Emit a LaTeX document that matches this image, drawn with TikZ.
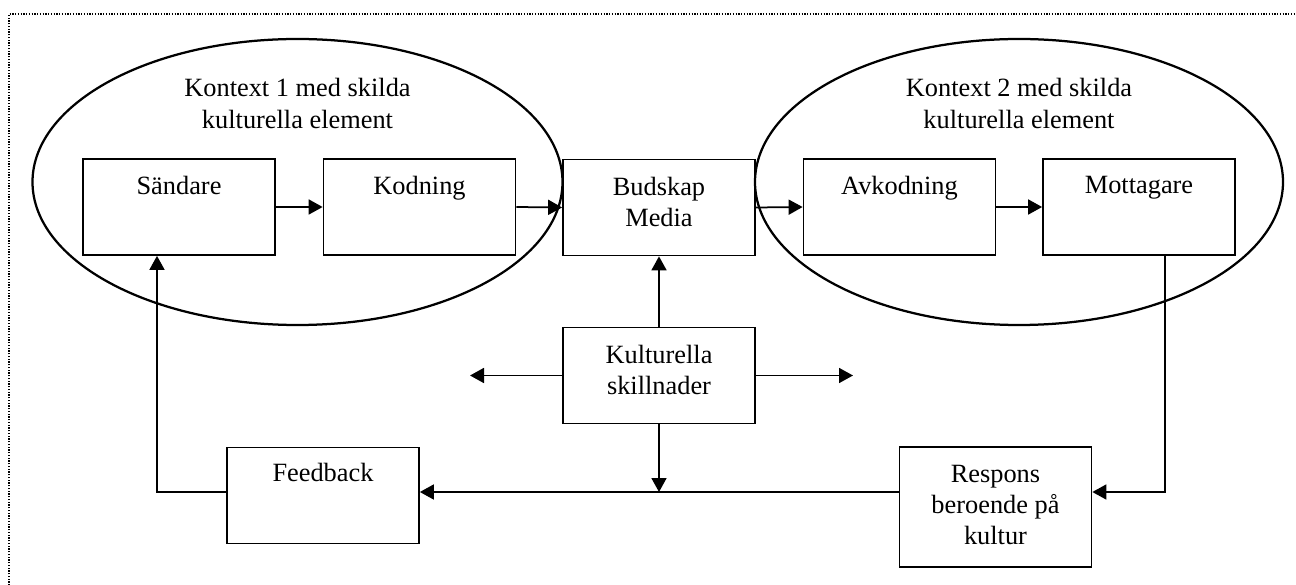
\documentclass[tikz,border=0pt]{standalone}
\usepackage{fontspec}
\setmainfont{Liberation Serif}
\usetikzlibrary{shapes.geometric, arrows.meta, positioning}

\begin{document}
\begin{tikzpicture}[
    box/.style={rectangle, draw=black, line width=0.035cm,
                minimum width=3.84cm, minimum height=1.92cm, inner sep=0pt},
    ctx/.style={ellipse, draw=black, line width=0.045cm, inner sep=0pt,
                minimum height=5.72cm},
    boxtext/.style={align=center, inner sep=0pt,
                    font=\fontsize{15}{17.6}\selectfont},
    ctxtext/.style={boxtext, font=\fontsize{15}{18.2}\selectfont},
    flow/.style={-{Triangle[length=0.28cm,width=0.30cm]}, line width=0.035cm},
    frame/.style={draw=black, line width=0.025cm,
                  dash pattern=on 0.025cm off 0.03cm},
]

\useasboundingbox (0,0) rectangle (25.92,-11.70);

% dotted page frame (runs off the right and bottom edge)
\draw[frame] (0.18,-12.2) -- (0.18,-0.28) -- (26.4,-0.28);

%---------------------------------------------------------------
% the two cultural contexts
%---------------------------------------------------------------
\node[ctx, minimum width=10.60cm] (ctx1) at (5.95,-3.64) {};
\node[ctx, minimum width=10.56cm] (ctx2) at (20.38,-3.64) {};
\node[ctxtext, below=0.80cm of ctx1.north] (ctx1t)
     {Kontext 1 med skilda\\kulturella element};
\node[ctxtext, below=0.80cm of ctx2.north] (ctx2t)
     {Kontext 2 med skilda\\kulturella element};

%---------------------------------------------------------------
% top row: the communication chain
%---------------------------------------------------------------
\node[box] (sand) at (3.58,-4.14) {};
\node[box] (kod)  at (8.39,-4.14) {};
\node[box] (bud)  at (13.18,-4.15) {};
\node[box] (avk)  at (17.99,-4.14) {};
\node[box] (mott) at (22.78,-4.14) {};

\node[boxtext, below=0.36cm of sand.north] (sandt) {Sändare};
\node[boxtext, below=0.36cm of kod.north]  (kodt)  {Kodning};
\node[boxtext, below=0.36cm of bud.north]  (budt)  {Budskap\\Media};
\node[boxtext, below=0.36cm of avk.north]  (avkt)  {Avkodning};
\node[boxtext, below=0.36cm of mott.north] (mottt) {Mottagare};

%---------------------------------------------------------------
% middle and bottom: differences, feedback, response
%---------------------------------------------------------------
\node[box] (kult) at (13.18,-7.51) {};
\node[boxtext, below=0.36cm of kult.north] (kultt) {Kulturella\\skillnader};

\node[box] (feed) at (6.46,-9.91) {};
\node[boxtext, below=0.32cm of feed.north] (feedt) {Feedback};

\node[box, minimum height=2.40cm] (resp) at (19.91,-10.14) {};
\node[boxtext, below=0.38cm of resp.north] (respt)
     {Respons\\beroende på\\kultur};

% free ends of the connectors
\coordinate (kleft)  at (9.40,-7.51);
\coordinate (kright) at (17.06,-7.51);
\coordinate (fbl)    at (13.18,-9.84);
\coordinate (mdrop)  at (23.30,-9.84);
\coordinate (fdrop)  at (3.14,-9.84);

%---------------------------------------------------------------
% connectors
%---------------------------------------------------------------
\draw[flow] (sand.east) -- (kod.west);
\draw[flow] (kod.east) -- (bud.west);
\draw[flow] (bud.east) -- (avk.west);
\draw[flow] (avk.east) -- (mott.west);

\draw[flow] (kult.north) -- (bud.south);
\draw[flow] (kult.west) -- (kleft);
\draw[flow] (kult.east) -- (kright);
\draw[flow] (kult.south) -- (fbl);

\draw[flow] (mott.south -| mdrop) -- (mdrop) -- (resp.east |- mdrop);
\draw[flow] (resp.west |- fbl) -- (feed.east |- fbl);
\draw[flow] (feed.west |- fdrop) -- (fdrop) -- (sand.south -| fdrop);

\end{tikzpicture}
\end{document}
